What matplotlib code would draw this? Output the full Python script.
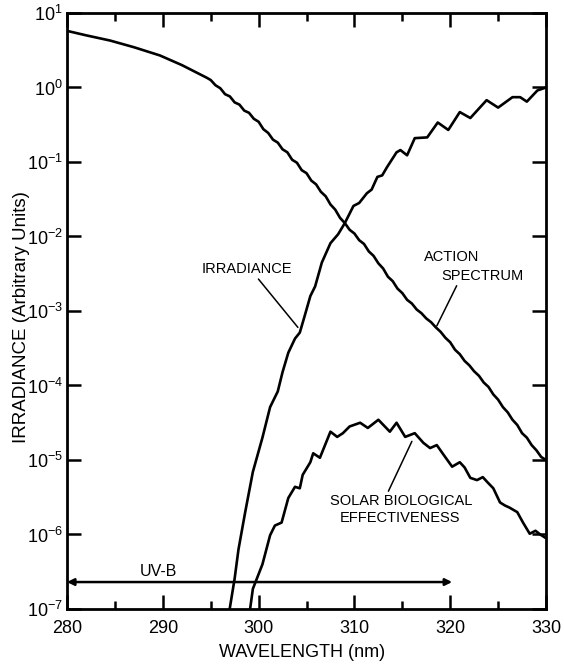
import matplotlib.pyplot as plt
import numpy as np
from matplotlib.ticker import MultipleLocator, FixedLocator, NullLocator

plt.rcParams['font.family'] = ['Liberation Sans', 'DejaVu Sans']
plt.rcParams['mathtext.fontset'] = 'custom'
plt.rcParams['mathtext.rm'] = 'Liberation Sans'
plt.rcParams['mathtext.it'] = 'Liberation Sans'

# action spectrum: wavelength (nm) and log10 of value
act_wl = [280.0, 282.0, 284.5, 287.0, 289.7, 292.0, 294.6,
          295.0, 295.5, 296.0, 296.5, 297.0, 297.5, 298.0, 298.5, 299.0, 299.5,
          300.0, 300.5, 301.0, 301.5, 302.0, 302.5, 303.0, 303.5, 304.0, 304.5,
          305.0, 305.5, 306.0, 306.5, 307.0, 307.5, 308.0, 308.5, 309.0, 309.5,
          310.0, 310.5, 311.0, 311.5, 312.0, 312.5, 313.0, 313.5, 314.0, 314.5,
          315.0, 315.5, 316.0, 316.5, 317.0, 317.5, 318.0, 318.5, 319.0, 319.5,
          320.0, 320.5, 321.0, 321.5, 322.0, 322.5, 323.0, 323.5, 324.0, 324.5,
          325.0, 325.5, 326.0, 326.5, 327.0, 327.5, 328.0, 328.5, 329.0, 329.5, 330.0]
act_log = [0.76, 0.70, 0.63, 0.54, 0.43, 0.30, 0.13,
           0.10, 0.03, -0.01, -0.09, -0.12, -0.20, -0.23, -0.31, -0.34, -0.42,
           -0.46, -0.56, -0.61, -0.70, -0.74, -0.83, -0.87, -0.97, -1.01, -1.11,
           -1.15, -1.25, -1.30, -1.40, -1.46, -1.57, -1.64, -1.75, -1.82, -1.91,
           -1.96, -2.05, -2.10, -2.20, -2.26, -2.36, -2.43, -2.54, -2.60, -2.70,
           -2.76, -2.85, -2.90, -2.98, -3.03, -3.10, -3.15, -3.22, -3.28, -3.36,
           -3.42, -3.52, -3.58, -3.67, -3.73, -3.81, -3.87, -3.96, -4.02, -4.12,
           -4.19, -4.29, -4.36, -4.46, -4.53, -4.64, -4.70, -4.80, -4.87, -4.96, -5.00]

# irradiance
irr_wl = [296.6, 297.5, 297.9, 298.6, 299.4, 300.4, 301.2, 302.0, 302.5, 303.1,
          303.8, 304.3, 304.8, 305.4, 305.9, 306.6, 307.5, 308.3, 309.0, 309.9,
          310.5, 311.3, 311.8, 312.4, 312.9, 313.4, 314.4, 314.8, 315.5, 316.3,
          317.6, 318.7, 319.8, 321.0, 322.1, 323.8, 325.0, 326.5, 327.3, 328.0,
          329.1, 330.0]
irr_log = [-7.3, -6.59, -6.20, -5.70, -5.16, -4.70, -4.29, -4.08, -3.82, -3.56,
           -3.37, -3.29, -3.07, -2.80, -2.67, -2.35, -2.09, -1.97, -1.82, -1.59,
           -1.55, -1.42, -1.37, -1.20, -1.18, -1.07, -0.87, -0.84, -0.91, -0.68,
           -0.67, -0.47, -0.57, -0.33, -0.41, -0.17, -0.27, -0.13, -0.13, -0.19,
           -0.04, 0.0]

# solar biological effectiveness
sbe_wl = [298.9, 299.4, 300.4, 301.2, 301.7, 302.4, 303.1, 303.8, 304.3, 304.6,
          305.4, 305.7, 306.4, 307.5, 308.2, 308.8, 309.5, 310.6, 311.4, 312.5,
          313.7, 314.4, 315.3, 316.3, 317.2, 317.9, 318.6, 319.2, 320.2, 321.0,
          321.5, 322.1, 322.8, 323.4, 323.9, 324.5, 325.2, 325.7, 326.2, 327.0,
          327.6, 328.3, 328.9, 329.4, 330.0]
sbe_log = [-7.2, -6.73, -6.40, -6.01, -5.88, -5.84, -5.51, -5.36, -5.38, -5.20,
           -5.03, -4.91, -4.97, -4.62, -4.69, -4.64, -4.55, -4.50, -4.57, -4.46,
           -4.62, -4.50, -4.69, -4.64, -4.77, -4.84, -4.80, -4.91, -5.09, -5.03,
           -5.10, -5.24, -5.27, -5.23, -5.30, -5.38, -5.57, -5.61, -5.64, -5.70,
           -5.84, -5.99, -5.95, -6.00, -6.05]

uvb_range = [280, 320.2]

fig = plt.figure(figsize=(5.64, 6.66), dpi=100)
ax = fig.add_axes([0.1188, 0.0856, 0.8493, 0.8949])

lw = 1.9
ax.plot(act_wl, 10 ** np.array(act_log), color='black', lw=lw)
ax.plot(irr_wl, 10 ** np.array(irr_log), color='black', lw=lw)
ax.plot(sbe_wl, 10 ** np.array(sbe_log), color='black', lw=lw)

ax.set_yscale('log')
ax.set_xlim(280, 330)
ax.set_ylim(1e-7, 1e1)

ax.xaxis.set_major_locator(MultipleLocator(10))
ax.xaxis.set_minor_locator(MultipleLocator(5))
ax.yaxis.set_major_locator(FixedLocator([10.0 ** k for k in range(-7, 2)]))
ax.yaxis.set_minor_locator(NullLocator())
ax.set_yticklabels(['$10^{%d}$' % k for k in range(-7, 2)])

ax.tick_params(which='both', direction='in', top=True, right=True, width=1.8)
ax.tick_params(which='major', length=10)
ax.tick_params(which='minor', length=6)
ax.tick_params(axis='x', labelsize=13, pad=8)
ax.tick_params(axis='y', labelsize=13, pad=3)
for s in ax.spines.values():
    s.set_linewidth(2)

ax.set_xlabel('WAVELENGTH (nm)', fontsize=13)
ax.xaxis.set_label_coords(0.49, -0.058)
ax.set_ylabel('IRRADIANCE (Arbitrary Units)', fontsize=13.5)
ax.yaxis.set_label_coords(-0.078, 0.49)

# UV-B double arrow
ax.annotate('', xy=(uvb_range[1], 2.3e-7), xytext=(uvb_range[0], 2.3e-7),
            arrowprops=dict(arrowstyle='<|-|>', lw=1.8, color='black',
                            mutation_scale=10, shrinkA=0, shrinkB=0))
ax.text(289.5, 10 ** -6.5, 'UV-B', fontsize=11.5, ha='center', va='center')

lab = dict(fontsize=10.5, color='black')
ax.annotate('IRRADIANCE', xy=(304.1, 10 ** -3.22), xytext=(298.8, 10 ** -2.44),
            ha='center', va='center',
            arrowprops=dict(arrowstyle='-', lw=1.1, color='black', shrinkA=0, shrinkB=0,
                            relpos=(0.6, 0.0)), **lab)
ax.text(317.3, 10 ** -2.27, 'ACTION', ha='left', va='center', **lab)
ax.annotate('SPECTRUM', xy=(318.6, 10 ** -3.2), xytext=(319.1, 10 ** -2.53),
            ha='left', va='center',
            arrowprops=dict(arrowstyle='-', lw=1.1, color='black', shrinkA=0, shrinkB=0,
                            relpos=(0.2, 0.0)), **lab)
ax.annotate('SOLAR BIOLOGICAL', xy=(316.0, 10 ** -4.75), xytext=(314.9, 10 ** -5.55),
            ha='center', va='center',
            arrowprops=dict(arrowstyle='-', lw=1.1, color='black', shrinkA=0, shrinkB=0,
                            relpos=(0.4, 1.0)), **lab)
ax.text(314.8, 10 ** -5.78, 'EFFECTIVENESS', ha='center', va='center', **lab)

fig.savefig('out.png', dpi=100)
